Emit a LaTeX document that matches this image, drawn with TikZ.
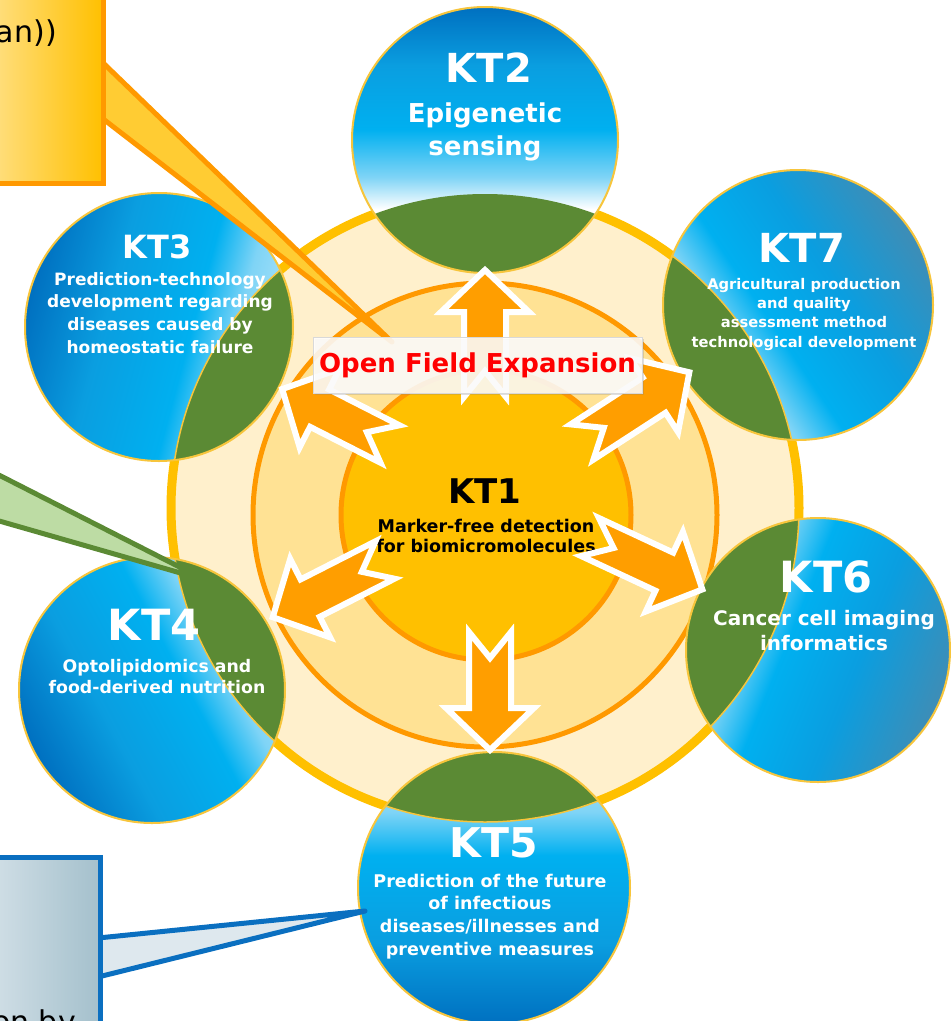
\documentclass[tikz,border=0pt]{standalone}
\usepackage{fontspec}
\setmainfont{DejaVu Sans}
\usetikzlibrary{shadows}

\definecolor{ringyellow}{HTML}{FFC000}
\definecolor{cream}{HTML}{FFF0CC}
\definecolor{midfill}{HTML}{FFE294}
\definecolor{ringorange}{HTML}{FF9900}
\definecolor{hubfill}{HTML}{FFC000}
\definecolor{leaf}{HTML}{5B8A34}
\definecolor{leaflight}{HTML}{BDDCA4}
\definecolor{deepblue}{HTML}{0070C0}
\definecolor{skyblue}{HTML}{00B0F0}
\definecolor{skymid}{HTML}{0A9EE0}
\definecolor{skysoft}{HTML}{7FD4F6}
\definecolor{paleblue}{HTML}{B5E6FA}
\definecolor{steelblue}{HTML}{3E8DB6}
\definecolor{rimgold}{HTML}{F7C53C}
\definecolor{arroworange}{HTML}{FF9E00}
\definecolor{tailgold}{HTML}{FFCC33}
\definecolor{boxpale}{HTML}{FFE8A6}
\definecolor{boxgold}{HTML}{FFC000}
\definecolor{mistblue}{HTML}{DEE8EE}
\definecolor{mistdark}{HTML}{A4C0CC}
\definecolor{callblue}{HTML}{0A6FC0}
\definecolor{ofered}{HTML}{FF0000}

% sky gradient fading to white at the lower edge
\pgfdeclareverticalshading{skydome}{100bp}{color(0bp)=(white); color(25bp)=(white); color(37bp)=(white); color(43bp)=(skysoft); color(52bp)=(skyblue); color(64bp)=(skymid); color(75bp)=(deepblue); color(100bp)=(deepblue)}
% orb gradients: pale side toward the hub, dark side away from it
\pgfdeclareverticalshading{orbdeep}{100bp}{color(0bp)=(paleblue); color(25bp)=(paleblue); color(36bp)=(skysoft); color(44bp)=(skyblue); color(60bp)=(skymid); color(75bp)=(deepblue); color(100bp)=(deepblue)}
\pgfdeclareverticalshading{orbsteel}{100bp}{color(0bp)=(paleblue); color(25bp)=(paleblue); color(36bp)=(skysoft); color(44bp)=(skyblue); color(58bp)=(skymid); color(75bp)=(steelblue); color(100bp)=(steelblue)}

\tikzset{
  orbtitle/.style={text=white, inner sep=0pt, anchor=base},
  orbtext/.style={text=white, align=center, inner sep=0pt, anchor=north},
  arrowbody/.style={fill=arroworange, draw=white, line width=6pt, line join=miter},
  pics/blockarrow/.style={code={
    \path[arrowbody] (0,21) -- ({#1-42},21) -- ({#1-42},44) -- (#1,0)
      -- ({#1-42},-44) -- ({#1-42},-21) -- (0,-21) -- (26,0) -- cycle;}},
  callout/.style={line width=5pt, line join=round},
}

% one satellite disc: centre x, centre y, radius, shading, shading angle
\newcommand{\draworb}[5]{%
  \shade[shading=#4, shading angle=#5] (#1,#2) circle (#3pt);
  \begin{scope}
    \clip (#1,#2) circle (#3pt);
    \fill[leaf] (outc) circle (314pt);
    \draw[rimgold, line width=1.5pt] (outc) circle (314pt);
  \end{scope}
  \draw[rimgold, line width=2pt] (#1,#2) circle (#3pt);
}

\begin{document}
\begin{tikzpicture}[x=1pt,y=1pt]
\useasboundingbox (0,0) rectangle (951,-1021);

% concentric rings around the hub
\coordinate (outc) at (485,-508);
\coordinate (midc) at (485,-515);
\coordinate (hubc) at (486,-515);
\fill[cream] (outc) circle (314pt);
\draw[ringyellow, line width=9pt] (outc) circle (314pt);
\filldraw[fill=midfill, draw=ringorange, line width=5pt] (midc) circle (232pt);
\filldraw[fill=hubfill, draw=ringorange, line width=5pt] (hubc) circle (145pt);

% satellite discs
\shade[shading=skydome] (485,-140) circle (133pt);
\begin{scope}
  \clip (485,-140) circle (133pt);
  \fill[leaf] (outc) circle (314pt);
\end{scope}
\draw[rimgold, line width=2pt] (485,-140) circle (133pt);
\draworb{159}{-327}{134}{orbdeep}{75}
\draworb{152}{-690}{133}{orbdeep}{118}
\draworb{494}{-888}{136}{orbdeep}{180}
\draworb{818}{-650}{132}{orbsteel}{-112}
\draworb{798}{-305}{135}{orbsteel}{-56}

% hub label
\node[inner sep=0pt, anchor=base, font=\bfseries\fontsize{34}{40}\selectfont] (kt1) at (485,-503) {KT1};
\node[inner sep=0pt, anchor=north, align=center, font=\bfseries\fontsize{17.5}{20}\selectfont] (kt1txt) at (486,-518.7) {Marker-free detection\\for biomicromolecules};

% satellite labels
\node[orbtitle, font=\bfseries\fontsize{40}{44}\selectfont] (kt2) at (489,-82) {KT2};
\node[orbtext, font=\bfseries\fontsize{26}{33}\selectfont] (kt2txt) at (485,-102.2) {Epigenetic\\sensing};

\node[orbtitle, font=\bfseries\fontsize{32}{36}\selectfont] (kt3) at (157,-258) {KT3};
\node[orbtext, font=\bfseries\fontsize{17}{22.7}\selectfont] (kt3txt) at (160,-272) {Prediction-technology\\development regarding\\diseases caused by\\homeostatic failure};

\node[orbtitle, font=\bfseries\fontsize{40}{44}\selectfont] (kt7) at (802,-262) {KT7};
\node[orbtext, font=\bfseries\fontsize{14.7}{19.3}\selectfont] (kt7txt) at (804,-278) {Agricultural production\\and quality\\assessment method\\technological development};

\node[orbtitle, font=\bfseries\fontsize{43}{47}\selectfont] (kt6) at (826,-592) {KT6};
\node[orbtext, font=\bfseries\fontsize{20}{25}\selectfont] (kt6txt) at (824,-610) {Cancer cell imaging\\informatics};

\node[orbtitle, font=\bfseries\fontsize{43}{47}\selectfont] (kt4) at (154,-640) {KT4};
\node[orbtext, font=\bfseries\fontsize{17.3}{21}\selectfont] (kt4txt) at (157,-658.9) {Optolipidomics and\\food-derived nutrition};

\node[orbtitle, font=\bfseries\fontsize{41}{45}\selectfont] (kt5) at (494,-857) {KT5};
\node[orbtext, font=\bfseries\fontsize{17.5}{22.7}\selectfont] (kt5txt) at (490,-873.7) {Prediction of the future\\of infectious\\diseases/illnesses and\\preventive measures};

% block arrows radiating from the hub
\pic[rotate=90]  at (485,-397) {blockarrow=127};
\pic[rotate=153] at (390,-444) {blockarrow=121};
\pic[rotate=33]  at (582,-442) {blockarrow=128};
\pic[rotate=207] at (385,-560) {blockarrow=126};
\pic[rotate=-25] at (590,-537) {blockarrow=124};
\pic[rotate=-90] at (490,-632) {blockarrow=118};

% callout, upper left
\coordinate (tltip) at (392,-342);
\filldraw[callout, fill=tailgold, draw=ringorange] (98,-58) -- (tltip) -- (98,-115) -- cycle;
\shade[left color=boxpale, middle color=boxpale, right color=boxgold] (-40,20) rectangle (103,-183);
\draw[ringorange, line width=5pt] (-40,20) rectangle (103,-183);
\node[anchor=base east, inner sep=0pt, font=\fontsize{30}{36}\selectfont] (tlnote) at (57,-42) {an))};

% callout, middle left
\coordinate (gtip) at (205,-580);
\filldraw[callout, fill=leaflight, draw=leaf] (-60,-445) -- (gtip) -- (-60,-504) -- cycle;

% callout, lower left
\coordinate (btip) at (365,-911);
\filldraw[callout, fill=mistblue, draw=callblue] (98,-938) -- (btip) -- (98,-977) -- cycle;
\shade[left color=mistblue, right color=mistdark] (-40,-857) rectangle (100,-1060);
\draw[callblue, line width=5pt] (-40,-857) rectangle (100,-1060);
\node[anchor=base east, inner sep=0pt, font=\fontsize{30}{36}\selectfont] (blnote) at (76,-1032) {on by};

% banner over the upward arrow
\node[fill=white, fill opacity=0.86, text opacity=1, draw=black!15, line width=0.8pt,
      minimum width=329pt, minimum height=56pt, inner sep=0pt, text=ofered,
      font=\bfseries\fontsize{26}{30}\selectfont,
      drop shadow={opacity=0.25, shadow xshift=2pt, shadow yshift=-2pt}] (ofe) at (477.5,-365) {Open Field Expansion};
\end{tikzpicture}
\end{document}
